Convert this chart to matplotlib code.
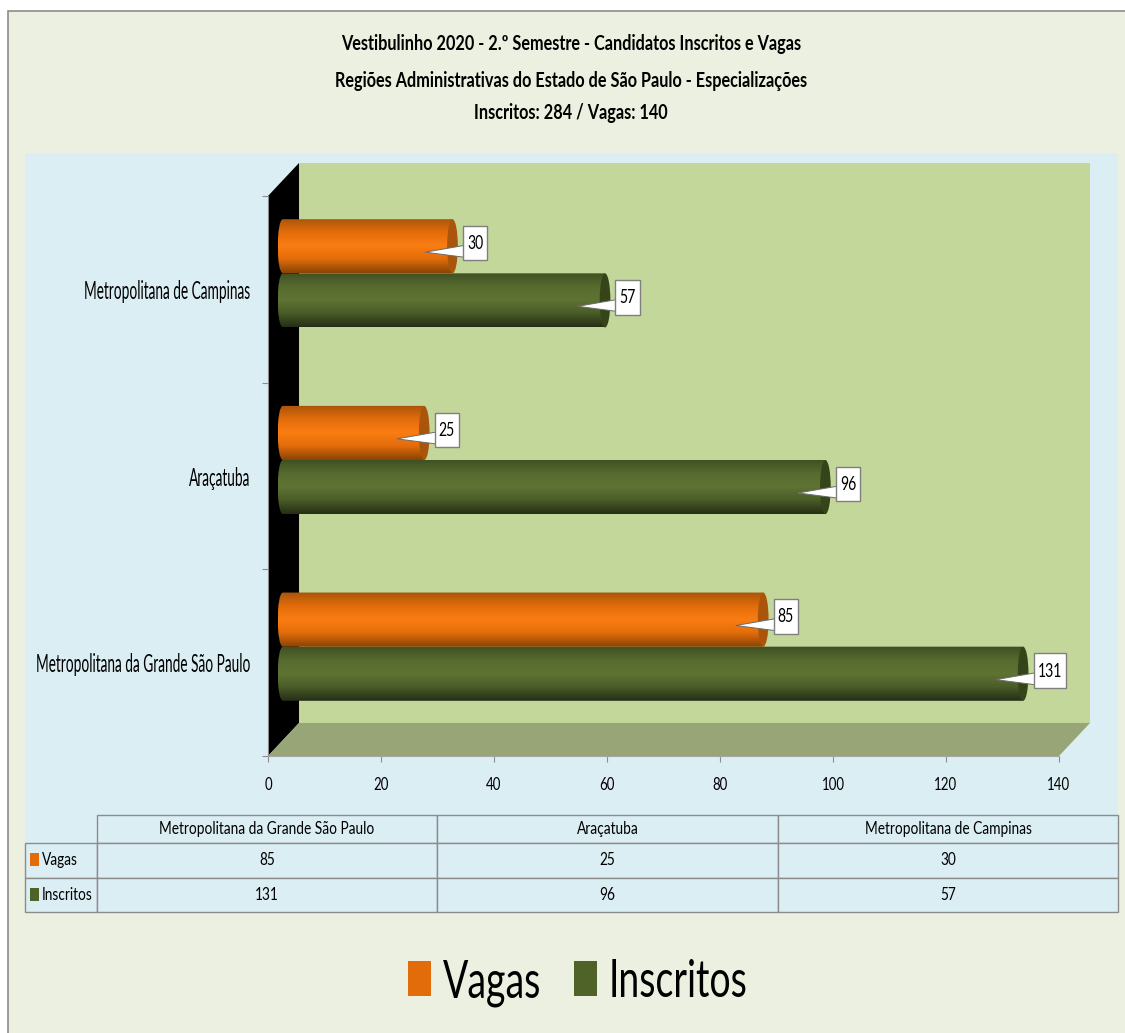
import os
import tempfile
import matplotlib
matplotlib.use("Agg")
import matplotlib.pyplot as plt
import numpy as np
from matplotlib.patches import Polygon, Rectangle, Ellipse, PathPatch, Patch
from matplotlib.path import Path
from matplotlib.colors import LinearSegmentedColormap
from matplotlib.table import Table
from matplotlib.font_manager import FontProperties, findfont
from fontTools.ttLib import TTFont

W = 1125
H = 1033

categories = ["Metropolitana da Grande São Paulo", "Araçatuba", "Metropolitana de Campinas"]
vagas = [85, 25, 30]
inscritos = [131, 96, 57]
xticks = [0, 20, 40, 60, 80, 100, 120, 140]
title_lines = ["Vestibulinho 2020 - 2.º Semestre - Candidatos Inscritos e Vagas",
               "Regiões Administrativas do Estado de São Paulo - Especializações",
               "Inscritos: 284 / Vagas: 140"]

tmpdir = tempfile.mkdtemp()


def narrow_font(family, factor, size, weight="normal"):
    # none of the installed fonts is condensed, so squeeze the glyphs of one sideways
    src = findfont(FontProperties(family=family, weight=weight))
    font = TTFont(src)
    glyf = font["glyf"]
    hmtx = font["hmtx"]
    for name in font.getGlyphOrder():
        g = glyf[name]
        if g.isComposite():
            for comp in g.components:
                comp.x = int(comp.x * factor)
        elif g.numberOfContours > 0:
            g.coordinates.scale((factor, 1))
        adv, lsb = hmtx[name]
        hmtx[name] = (int(adv * factor), int(lsb * factor))
    path = os.path.join(tmpdir, "%s_%s_%d.ttf" % (family, weight, int(factor * 100)))
    font.save(path)
    return FontProperties(fname=path, size=size)


title_font = narrow_font("Lato", 0.78, 15, "bold")
cat_font = narrow_font("Lato", 0.55, 18)
tick_font = narrow_font("Lato", 0.80, 12)
label_font = narrow_font("Lato", 0.72, 14)
table_font = narrow_font("Lato", 0.79, 12.5)
legend_font = narrow_font("Lato", 0.71, 38)


def px_axes(fig, x0, y0, x1, y1):
    # pixel box, y measured from the top of the picture
    return fig.add_axes([x0 / W, 1 - y1 / H, (x1 - x0) / W, (y1 - y0) / H])


def cylinder(ax, value, ycen, cmap, capcolor):
    # body with round left end plus a darker cap on the right
    dx, dy = 2.65, 0.0857
    half = 0.145
    rx = 0.95
    x0 = dx
    x1 = value + dx
    y = ycen + dy
    verts = [(x1, y + half), (x0, y + half),
             (x0 - 1.3 * rx, y + half), (x0 - 1.3 * rx, y - half), (x0, y - half),
             (x1, y - half), (x1, y + half)]
    codes = [Path.MOVETO, Path.LINETO, Path.CURVE4, Path.CURVE4, Path.CURVE4, Path.LINETO, Path.CLOSEPOLY]
    clip = PathPatch(Path(verts, codes), fc="none", ec="none", zorder=3)
    ax.add_patch(clip)
    grad = np.linspace(0, 1, 64).reshape(-1, 1)
    im = ax.imshow(grad, cmap=cmap, extent=[x0 - rx, x1, y - half, y + half], origin="upper",
                   aspect="auto", zorder=3)
    im.set_clip_path(clip)
    ax.add_patch(Ellipse((x1, y), 2 * rx, 2 * half, fc=capcolor, ec="none", zorder=3.1, clip_on=False))


def callout(ax, value, ycen):
    box_x = value + 4.5
    box_w = 4.3 if value < 100 else 5.7
    tip = (value - 2.2, ycen + 0.054)
    wedge = Polygon([tip, (box_x + 0.2, ycen + 0.09), (box_x + 0.2, ycen + 0.027)],
                    closed=True, fc="white", ec="#6b6b6b", lw=0.7, zorder=5, clip_on=False)
    ax.add_patch(wedge)
    ax.add_patch(Rectangle((box_x, ycen + 0.01), box_w, 0.185, fc="white", ec="#7f7f7f", lw=1,
                           zorder=5.1, clip_on=False))
    ax.text(box_x + box_w / 2, ycen + 0.1, str(value), ha="center", va="center",
            fontproperties=label_font, color="black", zorder=6)


fig = plt.figure(figsize=(W / 100, H / 100), dpi=100, facecolor="white")

# panel backgrounds
bg = fig.add_axes([0, 0, 1, 1])
bg.set_xlim(0, W)
bg.set_ylim(H, 0)
bg.axis("off")
bg.add_patch(Rectangle((8, 11), W, H, fc="#EBF0E0", ec="#8c8c8c", lw=1.2))
bg.add_patch(Rectangle((25, 153), 1093, 759, fc="#DBEEF4", ec="none"))

for i, line in enumerate(title_lines):
    fig.text(571 / W, 1 - [44, 81, 113][i] / H, line, ha="center", va="center",
             fontproperties=title_font, color="black")

# chart, front plane of the 3d box
ax = px_axes(fig, 268, 196, 1059, 756)
ax.patch.set_visible(False)
for s in ["top", "right"]:
    ax.spines[s].set_visible(False)
ax.spines["left"].set_color("#8c8c8c")
ax.spines["bottom"].set_color("#a6a6a6")

ddx, ddy = 5.49, 0.177
ax.add_patch(Polygon([(ddx, ddy), (140 + ddx, ddy), (140 + ddx, 3 + ddy), (ddx, 3 + ddy)],
                     fc="#C4D79B", ec="none", zorder=1, clip_on=False))
ax.add_patch(Polygon([(0, 0), (ddx, ddy), (ddx, 3 + ddy), (0, 3)], fc="black", ec="none", zorder=1.5, clip_on=False))
ax.add_patch(Polygon([(0, 0), (140, 0), (140 + ddx, ddy), (ddx, ddy)], fc="#98A577", ec="none", zorder=1.5, clip_on=False))

orange = LinearSegmentedColormap.from_list("o", ["#A9550B", "#E36C0A", "#FA7D12", "#E36C0A", "#8A4406"])
green = LinearSegmentedColormap.from_list("g", ["#3F4F22", "#566B2E", "#5F7433", "#4A5C28", "#262F16"])
half = 0.145
for i, cat in enumerate(categories):
    c = i + 0.5
    cylinder(ax, inscritos[i], c - half, green, "#364519")
    cylinder(ax, vagas[i], c + half, orange, "#A9550B")
    callout(ax, inscritos[i], c - half)
    callout(ax, vagas[i], c + half)

ax.set_xlim(0, 140)
ax.set_ylim(0, 3)
ax.set_xticks(xticks)
ax.set_yticks([0, 1, 2, 3])
ax.set_yticklabels([])
ax.set_yticks([0.5, 1.5, 2.5], labels=categories, minor=True)
ax.tick_params(axis="y", which="minor", length=0, pad=13)
ax.tick_params(axis="y", which="major", length=4, color="#8c8c8c")
ax.tick_params(axis="x", length=4, color="#8c8c8c", pad=11)
for t in ax.get_yticklabels(minor=True):
    t.set_fontproperties(cat_font)
for t in ax.get_xticklabels():
    t.set_fontproperties(tick_font)

# data table, first column is the row header with its colour key
tb_ax = px_axes(fig, 25, 815, 1118, 912)
tb_ax.axis("off")
cell_text = [[""] + categories,
             ["Vagas"] + [str(v) for v in vagas],
             ["Inscritos"] + [str(v) for v in inscritos]]
col_w = [72 / 1093, 340 / 1093, 341 / 1093, 340 / 1093]
row_h = [28 / 97, 34.5 / 97, 34.5 / 97]
tbl = Table(tb_ax, bbox=[0, 0, 1, 1])
for r, row in enumerate(cell_text):
    for c, txt in enumerate(row):
        cell = tbl.add_cell(r, c, col_w[c], row_h[r], text=txt, loc="left" if c == 0 else "center",
                            facecolor="#DBEEF4", edgecolor="#8c8c8c")
        cell.set_linewidth(1)
        cell.get_text().set_fontproperties(table_font)
        if c == 0:
            cell.PAD = 17 / 72
        if r == 0 and c == 0:
            cell.set_edgecolor("none")
            cell.set_facecolor("none")
tbl.auto_set_font_size(False)
tb_ax.add_table(tbl)
tb_ax.add_patch(Rectangle((5 / 1093, 46 / 97), 9 / 1093, 13 / 97, fc="#E36C0A", ec="none", zorder=10))
tb_ax.add_patch(Rectangle((5 / 1093, 11 / 97), 9 / 1093, 13 / 97, fc="#4F6228", ec="none", zorder=10))

handles = [Patch(fc="#E36C0A", label="Vagas"), Patch(fc="#4F6228", label="Inscritos")]
fig.legend(handles=handles, loc="center", bbox_to_anchor=(578 / W, 1 - 983 / H), ncol=2, frameon=False,
           prop=legend_font, handlelength=0.44, handleheight=0.63, handletextpad=0.22, columnspacing=0.62)

fig.savefig("out.png", dpi=100)
